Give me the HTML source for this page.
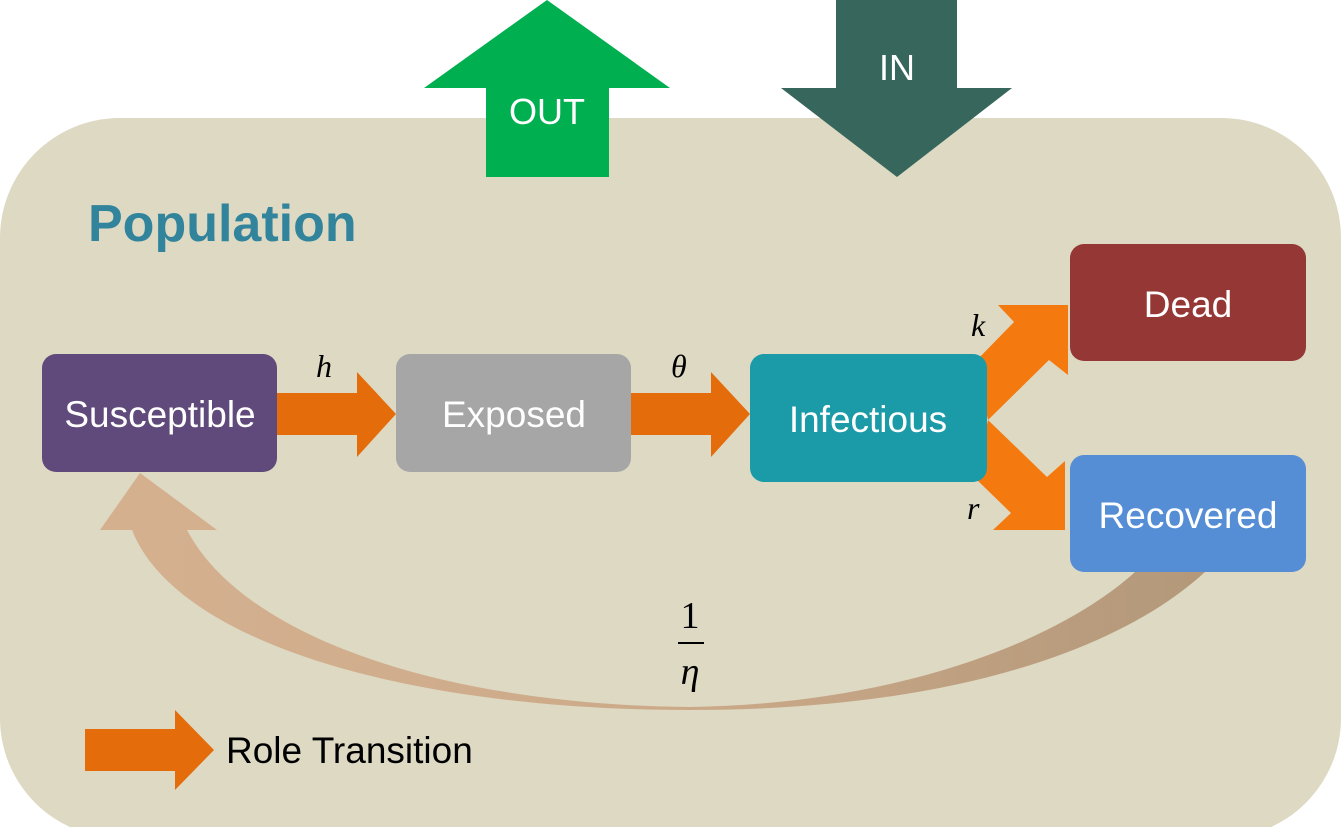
<!DOCTYPE html>
<html><head><style>
html,body{margin:0;padding:0;background:#fff;}
svg{display:block;}
text{font-family:"Liberation Sans",sans-serif;}
.m{font-family:"Liberation Serif",serif;font-style:italic;font-size:32px;fill:#000;}
</style></head><body>
<svg width="1341" height="827" viewBox="0 0 1341 827" xmlns="http://www.w3.org/2000/svg">
<defs>
<linearGradient id="g" x1="0" y1="0" x2="1" y2="0">
<stop offset="0" stop-color="#d4b08f"/><stop offset="0.5" stop-color="#ccaa89"/><stop offset="1" stop-color="#b3987a"/>
</linearGradient>
</defs>
<rect x="0" y="118" width="1341" height="720" rx="120" fill="#ddd9c3"/>
<polygon points="547,0 670,88 609,88 609,177 486,177 486,88 424,88" fill="#00b050"/>
<text x="547" y="124" font-size="36" fill="#fff" text-anchor="middle">OUT</text>
<polygon points="836,0 957,0 957,88 1012,88 897,177 781,88 836,88" fill="#37665c"/>
<text x="897" y="80" font-size="36" fill="#fff" text-anchor="middle">IN</text>
<text x="88" y="241" font-size="52" font-weight="bold" fill="#31849b">Population</text>

<path d="M132,530 C175,640 400,710 690,710 C950,710 1120,650 1205,572 L1135,572 C1060,640 900,704 690,707 C450,705 245,640 187,530 Z" fill="url(#g)"/>
<polygon points="140,473 217,530 100,530" fill="#d4b08f"/>

<polygon points="975,362 1014,322 998,305 1068,305 1068,375 1049,360 988,420" fill="#f47a10"/>
<polygon points="988,420 1047,477 1065,461 1065,530 993,530 1011,513 975,478" fill="#f47a10"/>

<rect x="42" y="354" width="235" height="118" rx="14" fill="#604a7b"/>
<text x="160" y="427" font-size="37" fill="#fff" text-anchor="middle">Susceptible</text>
<rect x="396" y="354" width="235" height="118" rx="14" fill="#a6a6a6"/>
<text x="514" y="427" font-size="37" fill="#fff" text-anchor="middle">Exposed</text>
<rect x="750" y="354" width="237" height="128" rx="14" fill="#1b9aa7"/>
<text x="868" y="432" font-size="37" fill="#fff" text-anchor="middle">Infectious</text>
<rect x="1070" y="244" width="236" height="117" rx="14" fill="#953735"/>
<text x="1188" y="317" font-size="37" fill="#fff" text-anchor="middle">Dead</text>
<rect x="1070" y="455" width="236" height="117" rx="14" fill="#558ed5"/>
<text x="1188" y="528" font-size="37" fill="#fff" text-anchor="middle">Recovered</text>

<polygon points="277,393 357,393 357,372 396,414 357,457 357,435 277,435" fill="#e46c0a"/>
<polygon points="631,393 711,393 711,372 750,414 711,457 711,435 631,435" fill="#e46c0a"/>

<text class="m" x="316" y="377">h</text>
<text class="m" x="671" y="377">θ</text>
<text class="m" x="971" y="336">k</text>
<text class="m" x="967" y="519">r</text>
<text class="m" x="690" y="628" text-anchor="middle" style="font-style:normal;font-size:38px">1</text>
<rect x="678" y="642" width="26" height="2" fill="#000"/>
<text class="m" x="690" y="684" text-anchor="middle" style="font-size:38px">η</text>

<polygon points="85,729 175,729 175,710 214,750 175,790 175,771 85,771" fill="#e46c0a"/>
<text x="226" y="763" font-size="37" fill="#000">Role Transition</text>
</svg>
</body></html>
